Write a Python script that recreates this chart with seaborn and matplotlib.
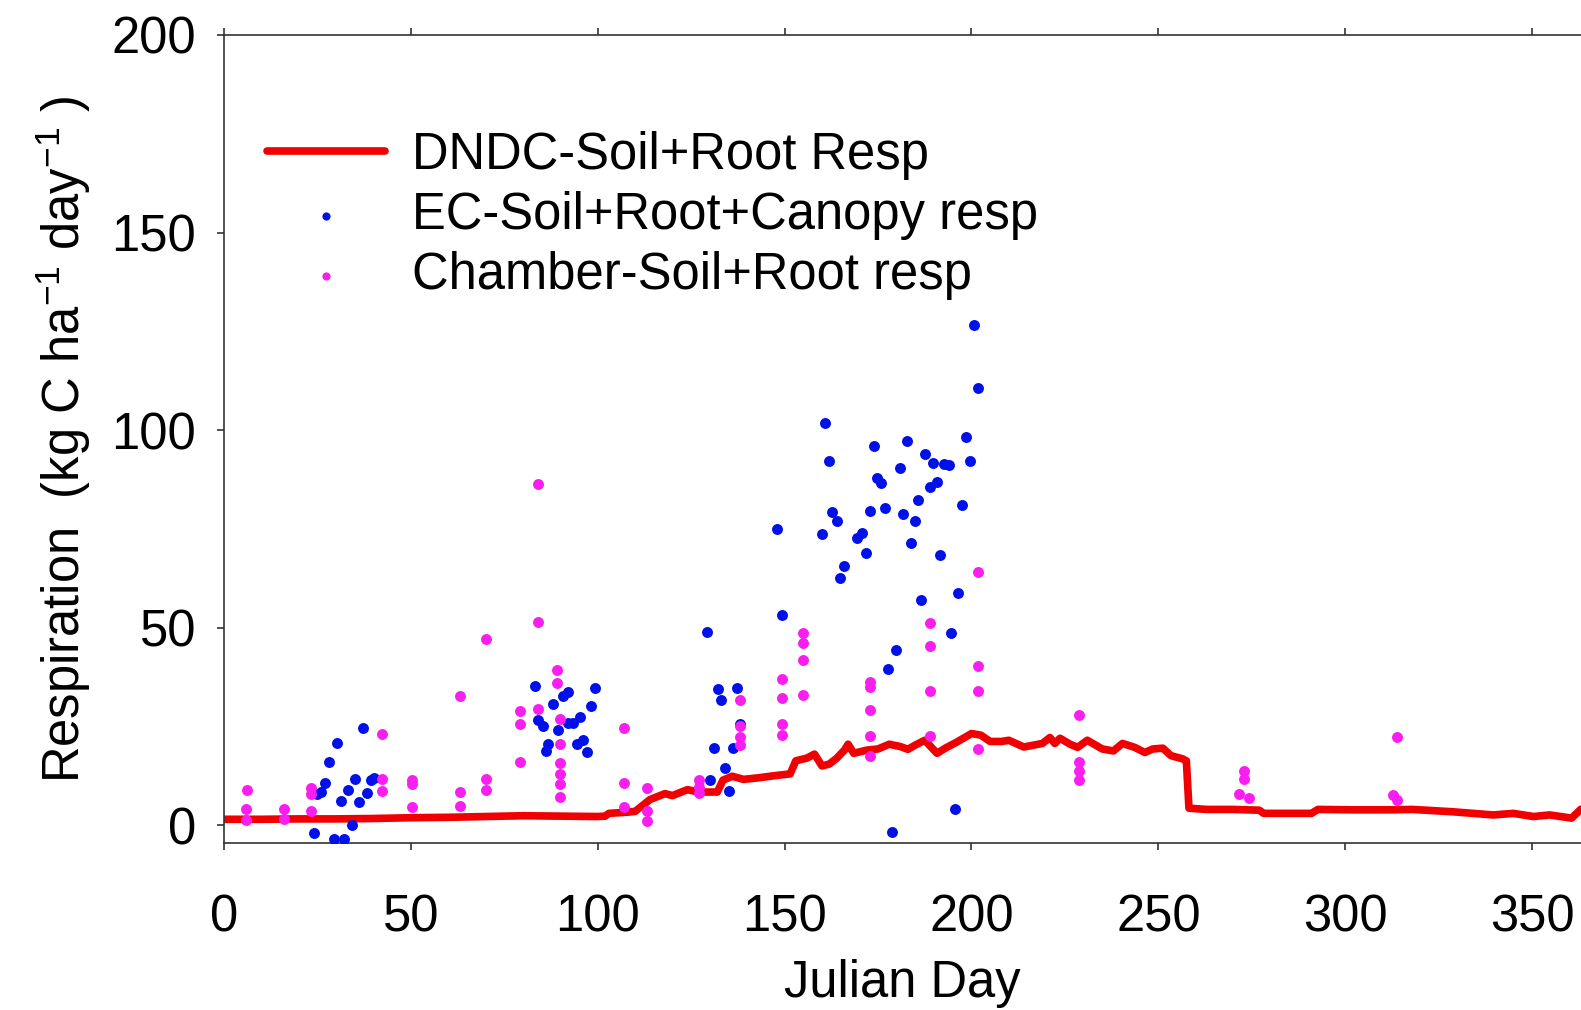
import matplotlib
matplotlib.use("Agg")
import matplotlib.pyplot as plt
import seaborn as sns
import pandas as pd

# ---------------- data ----------------
dndc_day = [0, 10, 20, 30, 40, 50, 60, 70, 80, 90, 100, 102, 103, 108, 110, 112, 114,
            118, 120, 124, 127, 132, 133.5, 136, 139, 143, 147, 151.5, 153, 156, 158,
            160, 162, 164, 166, 167, 168.5, 172, 175, 178, 181, 183, 185, 187.5, 189,
            190.8, 193, 196, 200, 202.5, 205, 208, 210, 214, 219, 221, 222.3, 223.7,
            226.4, 228.4, 231, 235, 238, 240.4, 243.7, 246.4, 248.5, 251.2, 253.4,
            256.5, 257.5, 258.2, 263, 270, 277, 278.2, 291, 292.7, 302, 312.7, 318,
            328.8, 339.6, 345, 350.4, 354.7, 360.6, 363, 365]
dndc_resp = [1.5, 1.5, 1.6, 1.6, 1.7, 1.9, 2.0, 2.2, 2.4, 2.3, 2.2, 2.3, 3.0, 3.3, 3.5,
             5.0, 6.5, 8.0, 7.5, 9.0, 8.4, 8.4, 11.4, 12.4, 11.6, 12.0, 12.5, 13.0, 16.3,
             17.0, 18.0, 15.0, 15.5, 17.0, 19.0, 20.5, 18.2, 19.0, 19.3, 20.5, 19.9, 19.2,
             20.3, 21.5, 20.0, 18.2, 19.5, 21.0, 23.2, 22.8, 21.2, 21.2, 21.5, 19.8, 20.7,
             22.2, 20.7, 22.0, 20.5, 19.7, 21.5, 19.3, 18.8, 20.7, 19.7, 18.4, 19.3, 19.5,
             17.6, 16.8, 16.3, 4.3, 4.0, 4.0, 3.8, 3.0, 3.0, 4.0, 3.9, 3.9, 4.0, 3.4, 2.6,
             3.0, 2.2, 2.6, 1.8, 4.0, 4.5]

ec_day = [24.2, 24.8, 26.0, 27.1, 28.2, 30.2, 29.3, 32.1, 31.2, 33.1, 34.3, 35.0, 36.2,
          37.1, 38.2, 39.3, 40.1,
          83.2, 99.3, 88.1, 90.6, 92.1, 98.1, 84.1, 85.3, 89.3, 92.0, 93.3, 95.2, 86.8,
          86.1, 94.4, 96.1, 97.2,
          129.2, 149.2, 132.1, 137.2, 133.0, 138.1, 131.2, 136.1, 134.1, 130.0, 135.0, 148.0,
          200.8, 201.7, 160.9, 161.8, 173.9, 182.8, 198.6, 199.6, 187.5, 189.7, 192.6,
          193.9, 180.8, 174.6, 175.9, 188.8, 190.8, 185.7, 197.6, 162.6, 163.9, 172.8,
          176.8, 181.7, 184.8, 160.0, 169.5, 170.8, 171.9, 183.9, 191.7, 165.8, 164.8,
          196.5, 186.6, 194.5, 179.7, 177.7, 195.6, 178.8]
ec_resp = [-1.9, 8.0, 8.5, 10.7, 16.0, 20.8, -3.6, -3.6, 6.1, 9.0, 0.0, 11.6, 5.9,
           24.5, 8.2, 11.5, 11.9,
           35.3, 34.8, 30.8, 32.8, 33.8, 30.2, 26.7, 25.0, 24.0, 25.9, 25.9, 27.3, 20.5,
           18.9, 20.6, 21.5, 18.5,
           48.8, 53.3, 34.6, 34.8, 31.6, 25.7, 19.6, 19.6, 14.6, 11.4, 8.6, 75.0,
           126.7, 110.6, 101.9, 92.2, 96.0, 97.3, 98.2, 92.3, 94.0, 91.8, 91.4,
           91.1, 90.4, 88.0, 86.7, 85.5, 86.9, 82.3, 81.0, 79.2, 77.0, 79.6,
           80.3, 78.7, 76.9, 73.7, 72.7, 73.9, 68.9, 71.4, 68.5, 65.7, 62.5,
           58.8, 56.9, 48.6, 44.4, 39.5, 4.0, -1.8]

ch_day = [6.1, 6.0, 6.0, 16.1, 16.1, 23.2, 23.2, 23.2, 42.2, 42.2, 42.2, 50.2, 50.2, 50.2,
          63.2, 63.2, 63.2, 70.0, 70.0, 70.0, 79.2, 79.2, 79.2, 84.1, 84.1, 84.1, 89.2,
          89.2, 89.9, 89.9, 89.9, 89.9, 89.9, 89.9, 107.0, 107.0, 107.0, 113.1, 113.1,
          113.1, 127.2, 127.2, 127.2, 138.1, 138.1, 138.1, 138.1, 149.2, 149.2, 149.2,
          149.2, 155.0, 155.0, 155.0, 155.0, 172.8, 172.8, 172.8, 172.8, 172.8, 188.8,
          188.8, 188.8, 188.8, 201.7, 201.7, 201.7, 201.7, 228.8, 228.8, 228.8, 228.8,
          273.0, 273.0, 271.7, 274.2, 313.9, 312.7, 313.9]
ch_resp = [8.9, 4.0, 1.3, 4.0, 1.5, 9.3, 8.0, 3.6, 23.0, 11.8, 8.7, 11.5, 10.5, 4.6,
           32.7, 8.4, 4.8, 47.2, 11.6, 9.0, 28.9, 25.7, 16.0, 86.3, 51.5, 29.5, 39.2,
           36.0, 27.0, 20.6, 15.8, 13.0, 10.5, 7.2, 24.5, 10.6, 4.5, 9.4, 3.6,
           1.1, 11.4, 9.7, 8.2, 31.6, 25.1, 22.3, 20.3, 37.1, 32.3, 25.7,
           22.8, 48.7, 46.2, 41.8, 32.9, 36.3, 35.0, 29.2, 22.5, 17.5, 51.1,
           45.3, 34.0, 22.5, 64.0, 40.2, 34.0, 19.4, 27.8, 15.9, 13.8, 11.5,
           13.8, 11.8, 8.0, 7.0, 22.4, 7.6, 6.3]

x_ticks = [0, 50, 100, 150, 200, 250, 300, 350]
y_ticks = [0, 50, 100, 150, 200]

# ---------------- style ----------------
sns.set_theme(style="white")
plt.rcParams["font.family"] = ["Liberation Sans", "DejaVu Sans"]
plt.rcParams["mathtext.fontset"] = "custom"
plt.rcParams["mathtext.rm"] = "Liberation Sans"
plt.rcParams["mathtext.it"] = "Liberation Sans"
plt.rcParams["mathtext.default"] = "regular"
plt.rcParams["text.color"] = "black"
plt.rcParams["axes.labelcolor"] = "black"

FS = 36.5
RED = "#F00000"
BLUE = "#0010E8"
MAG = "#F81EF0"

fig = plt.figure(figsize=(15.81, 10.10), dpi=100)
ax = fig.add_axes([224 / 1581, 167 / 1010, 1357 / 1581, 808 / 1010])

line_df = pd.DataFrame({"day": dndc_day, "resp": dndc_resp})
ec_df = pd.DataFrame({"day": ec_day, "resp": ec_resp})
ch_df = pd.DataFrame({"day": ch_day, "resp": ch_resp})

sns.lineplot(data=line_df, x="day", y="resp", ax=ax, color=RED, linewidth=5.5,
             estimator=None, sort=False, label="DNDC-Soil+Root Resp", zorder=2,
             solid_joinstyle="round")
sns.scatterplot(data=ec_df, x="day", y="resp", ax=ax, color=BLUE, s=62, linewidth=0,
                label="EC-Soil+Root+Canopy resp", zorder=3)
sns.scatterplot(data=ch_df, x="day", y="resp", ax=ax, color=MAG, s=62, linewidth=0,
                label="Chamber-Soil+Root resp", zorder=4)

ax.set_xlim(0, 363.1)
ax.set_ylim(-4.5, 200)
ax.set_xticks(x_ticks)
ax.set_yticks(y_ticks)

for side in ["left", "top", "bottom"]:
    ax.spines[side].set_visible(True)
    ax.spines[side].set_color("#333333")
    ax.spines[side].set_linewidth(1.2)
ax.spines["right"].set_visible(False)

ax.tick_params(axis="both", which="major", direction="out", length=5, width=1.2,
               color="#333333", labelsize=FS, labelcolor="black")
ax.tick_params(axis="x", top=True, bottom=True, labeltop=False, pad=31)
ax.tick_params(axis="y", left=True, right=False, pad=15)

ax.set_xlabel("Julian Day", fontsize=FS, labelpad=12, color="black")
ax.set_ylabel(r"Respiration  (kg C ha$^{-1}$ day$^{-1}$ )", fontsize=FS, labelpad=13,
              color="black")

leg = ax.legend(loc="upper left", bbox_to_anchor=(0.0317, 0.881), frameon=False,
                fontsize=FS, handlelength=2.33, handletextpad=0.53, labelspacing=0.22,
                borderpad=0, borderaxespad=0, markerscale=0.75, labelcolor="black")

fig.savefig("out.png", dpi=100)
